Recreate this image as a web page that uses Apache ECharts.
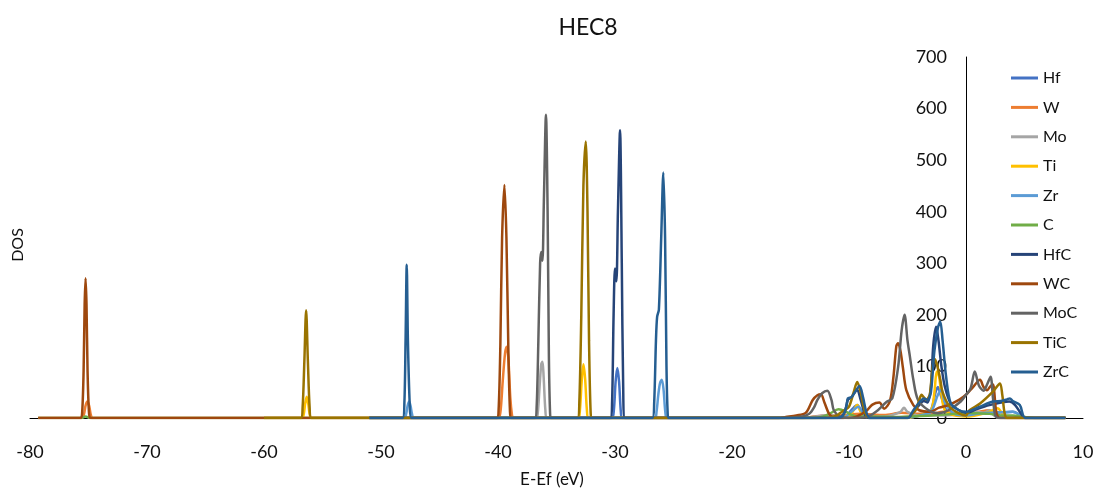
<!DOCTYPE html>
<html>
<head>
<meta charset="utf-8">
<script src="https://cdn.jsdelivr.net/npm/echarts@6/dist/echarts.min.js"></script>
<style>html,body{margin:0;padding:0;background:#fff;}#c{width:1099px;height:498px;}</style>
</head>
<body>
<div id="c"></div>
<script>
// ---- data ----
const seriesNames = ['Hf','W','Mo','Ti','Zr','C','HfC','WC','MoC','TiC','ZrC'];
const xTicks = [-80,-70,-60,-50,-40,-30,-20,-10,0,10];
const yTicks = [0,100,200,300,400,500,600,700];

const hf = [[-51,0],[-30.3,0],[-30.1,15],[-29.95,70],[-29.8,97],[-29.65,70],[-29.5,12],[-29.35,0],
  [-10.5,0],[-9.8,15],[-9.3,25],[-8.8,5],[-8.3,0],[-4.5,2],[-3.5,8],[-3,15],[-2.6,50],[-2.4,60],[-2.1,40],[-1.5,10],[0,5],[1,8],[2,10],[3,11],[4,12],[4.6,6],[5,0],[8.5,0]];
const w = [[-79.3,0],[-75.6,0],[-75.4,6],[-75.25,24],[-75.1,32],[-74.95,24],[-74.8,6],[-74.65,0],
  [-40.0,0],[-39.8,10],[-39.6,70],[-39.4,125],[-39.25,138],[-39.1,110],[-38.95,40],[-38.8,5],[-38.7,0],
  [-14,0],[-13,3],[-12,5],[-11,5],[-9,8],[-7,6],[-5.5,10],[-4,8],[-3,8],[-2,12],[-1,10],[0,8],[1,12],[2,15],[2.5,8],[3,0],[8.5,0]];
const mo = [[-51,0],[-36.75,0],[-36.6,10],[-36.45,60],[-36.3,105],[-36.2,109],[-36.1,80],[-35.95,15],[-35.8,0],
  [-14,0],[-12.5,4],[-11.8,6],[-10.5,2],[-7,3],[-5.6,12],[-5.3,20],[-5,12],[-4,5],[-2,5],[0,8],[0.8,12],[1.5,10],[2,15],[2.4,5],[2.8,0],[8.5,0]];
const ti = [[-60,0],[-56.75,0],[-56.6,8],[-56.48,28],[-56.35,41],[-56.22,28],[-56.1,8],[-55.95,0],
  [-33.15,0],[-33.0,15],[-32.85,70],[-32.7,104],[-32.55,75],[-32.4,15],[-32.25,0],
  [-12,0],[-10,5],[-9.6,15],[-9.3,25],[-9.0,12],[-8.6,3],[-5,0],[-4,5],[-3,15],[-2.7,50],[-2.5,90],[-2.3,80],[-2.1,45],[-1.8,15],[-1,5],[0,3],[1,6],[2,12],[2.7,19],[3.0,12],[3.3,0],[8.5,0]];
const zr = [[-51,0],[-48.0,0],[-47.85,8],[-47.72,24],[-47.6,32],[-47.48,24],[-47.35,8],[-47.2,0],
  [-26.6,0],[-26.45,12],[-26.3,45],[-26.15,68],[-26.0,74],[-25.85,55],[-25.7,12],[-25.55,0],
  [-10.5,0],[-9.8,12],[-9.2,22],[-8.7,5],[-8.3,0],[-4.5,2],[-4,5],[-3,12],[-2.4,45],[-2.1,55],[-1.8,30],[-1,8],[0,5],[1,8],[2,10],[3,11],[4,12],[4.6,6],[5,0],[8.5,0]];
const c = [[-79.3,0],[-75.6,0],[-75.25,3],[-74.9,0],
  [-13,0],[-12.2,3],[-11.6,9],[-10.9,17],[-10.3,13],[-9.8,6],[-9.3,3],[-8,3],[-6,2],[-5,3],[-3,5],[-1,8],[0,10],[1,9],[2,8],[3,5],[4,5],[5,2],[6,0],[8.5,0]];
const hfC = [[-51,0],[-30.4,0],[-30.25,30],[-30.12,200],[-30.0,290],[-29.88,265],[-29.75,400],[-29.57,558],[-29.42,300],[-29.3,60],[-29.15,0],
  [-11,0],[-10.4,10],[-10.1,35],[-9.8,40],[-9.5,50],[-9.3,55],[-9.0,35],[-8.6,5],[-8.3,0],[-5,0],[-4.5,12],[-4.0,25],[-3.6,33],[-3.3,30],[-3.0,60],[-2.8,140],[-2.55,177],[-2.35,150],[-2.1,100],[-1.8,60],[-1.3,28],[-0.6,15],[0,10],[1,18],[2,25],[3,30],[3.7,32],[4.2,25],[4.8,5],[5.1,0],[8.5,0]];
const wC = [[-79.3,0],[-75.7,0],[-75.55,8],[-75.42,90],[-75.33,220],[-75.25,271],[-75.17,220],[-75.08,90],[-74.95,8],[-74.8,0],
  [-40.1,0],[-39.95,15],[-39.8,140],[-39.65,350],[-39.45,452],[-39.28,350],[-39.12,140],[-38.98,15],[-38.85,0],
  [-16,0],[-15.4,2],[-14.5,5],[-13.7,10],[-13.1,35],[-12.7,44],[-12.4,46],[-12.1,30],[-11.7,8],[-11.3,1],[-10,0],[-9.4,2],[-8.5,14],[-8.0,26],[-7.4,30],[-7.0,18],[-6.5,33],[-6.2,80],[-5.95,140],[-5.8,145],[-5.6,130],[-5.4,99],[-5.1,54],[-4.5,25],[-4.0,15],[-3.1,12],[-2.3,20],[-1.5,25],[-0.6,35],[0,45],[0.6,60],[1.2,74],[1.5,60],[1.8,54],[2.1,62],[2.3,65],[2.6,10],[2.9,0],[8.5,0]];
const moC = [[-51,0],[-36.85,0],[-36.7,20],[-36.55,150],[-36.4,300],[-36.3,322],[-36.2,305],[-36.08,420],[-35.9,588],[-35.76,400],[-35.65,120],[-35.55,10],[-35.45,0],
  [-16,0],[-14,3],[-13.4,8],[-13,20],[-12.7,35],[-12.3,48],[-11.85,53],[-11.5,35],[-11.3,15],[-10.8,3],[-10,0],[-8.5,2],[-7.7,12],[-6.8,31],[-6.3,38],[-5.8,99],[-5.5,170],[-5.25,200],[-5.0,150],[-4.8,120],[-4.5,74],[-4.1,35],[-3.2,15],[-2.4,9],[-1.5,15],[-0.45,32],[0,45],[0.4,58],[0.75,90],[1.1,63],[1.5,53],[1.8,65],[2.1,80],[2.3,40],[2.5,5],[2.8,0],[8.5,0]];
const tiC = [[-60,0],[-56.85,0],[-56.7,20],[-56.55,110],[-56.4,209],[-56.25,110],[-56.1,20],[-55.95,0],
  [-33.2,0],[-33.05,30],[-32.88,200],[-32.7,450],[-32.5,536],[-32.35,400],[-32.22,150],[-32.08,10],[-31.95,0],
  [-16,0],[-12,0],[-11,5],[-10.8,9],[-10.4,15],[-10.0,22],[-9.6,50],[-9.3,70],[-9.0,50],[-8.6,9],[-8.2,0],[-5,0],[-4.6,8],[-4.3,15],[-4.0,35],[-3.8,45],[-3.6,40],[-3.4,35],[-3.1,45],[-2.9,90],[-2.7,115],[-2.5,105],[-2.2,75],[-2.0,50],[-1.4,22],[-0.6,9],[0,5],[0.3,15],[1.2,28],[2.3,51],[2.9,67],[3.1,45],[3.3,9],[3.5,0],[8.5,0]];
const zrC = [[-51,0],[-48.15,0],[-48.0,30],[-47.9,150],[-47.8,297],[-47.7,150],[-47.55,30],[-47.4,0],
  [-26.8,0],[-26.65,30],[-26.5,150],[-26.4,196],[-26.25,210],[-26.05,350],[-25.87,476],[-25.72,350],[-25.6,100],[-25.5,10],[-25.4,0],
  [-16,0],[-11,0],[-10.5,5],[-10.2,25],[-10.1,38],[-9.8,40],[-9.5,50],[-9.1,62],[-8.8,40],[-8.5,10],[-8.2,0],[-5,0],[-4.5,15],[-4.0,30],[-3.6,38],[-3.3,35],[-3.0,50],[-2.7,130],[-2.4,175],[-2.2,187],[-2.0,150],[-1.7,80],[-1.3,28],[-0.6,15],[0,12],[0.5,15],[1.2,22],[2.3,32],[3.0,33],[3.5,36],[3.75,38],[4.0,33],[4.6,25],[5.1,0],[8.5,0]];

const seriesData = [hf, w, mo, ti, zr, c, hfC, wC, moC, tiC, zrC];
const colors = ['#4472C4','#ED7D31','#A5A5A5','#FFC000','#5B9BD5','#70AD47','#264478','#9E480E','#636363','#997300','#255E91'];

// ---- chart ----
const FONT = "Lato, 'Liberation Sans', sans-serif";
const GRID_LEFT = 30, GRID_RIGHT = 16;
const plotW = 1099 - GRID_LEFT - GRID_RIGHT;
// shift the y axis (line + labels) so it sits at x = 0, like the reference
const yOffset = -plotW * (0 - xTicks[0]) / (xTicks[xTicks.length-1] - xTicks[0]);

const chart = echarts.init(document.getElementById('c'), null, {renderer:'canvas'});
chart.setOption({
  animation: false,
  backgroundColor: '#fff',
  color: colors,
  grid: {left: GRID_LEFT, right: GRID_RIGHT, top: 57, bottom: 80, containLabel: false, outerBoundsMode: 'none'},
  xAxis: {
    type: 'value', min: xTicks[0], max: xTicks[xTicks.length-1], interval: 10,
    axisLine: {show: true, lineStyle: {color: '#000', width: 1}},
    axisTick: {show: false},
    splitLine: {show: false},
    axisLabel: {fontSize: 18, color: '#111', fontFamily: FONT, margin: 25}
  },
  yAxis: {
    type: 'value', min: yTicks[0], max: yTicks[yTicks.length-1], interval: 100,
    position: 'left', offset: yOffset,
    axisLine: {show: true, onZero: false, lineStyle: {color: '#000', width: 1}},
    axisTick: {show: false},
    splitLine: {show: false},
    axisLabel: {fontSize: 18, color: '#111', fontFamily: FONT, margin: 19}
  },
  legend: {
    orient: 'vertical', left: 1006, top: 64,
    icon: 'rect', itemWidth: 27, itemHeight: 3, itemGap: 11.4,
    textStyle: {fontSize: 16, color: '#111', fontFamily: FONT, lineHeight: 18},
    data: seriesNames
  },
  graphic: [
    {type: 'text', style: {text: 'HEC8', x: 588, y: 28, textAlign: 'center', textVerticalAlign: 'middle', fontSize: 23, fill: '#111', fontFamily: FONT}},
    {type: 'text', style: {text: 'DOS', x: 0, y: 0, textAlign: 'center', textVerticalAlign: 'middle', fontSize: 16, fill: '#111', fontFamily: FONT}, position: [18, 245], rotation: Math.PI/2},
    {type: 'text', style: {text: 'E-Ef (eV)', x: 552, y: 480, textAlign: 'center', textVerticalAlign: 'middle', fontSize: 17, fill: '#111', fontFamily: FONT}}
  ],
  series: seriesNames.map((n, i) => ({
    name: n, type: 'line', data: seriesData[i], showSymbol: false, symbol: 'none',
    smooth: 0.3, lineStyle: {width: 2.5, color: colors[i]}, itemStyle: {color: colors[i]}
  }))
});
</script>
</body>
</html>
